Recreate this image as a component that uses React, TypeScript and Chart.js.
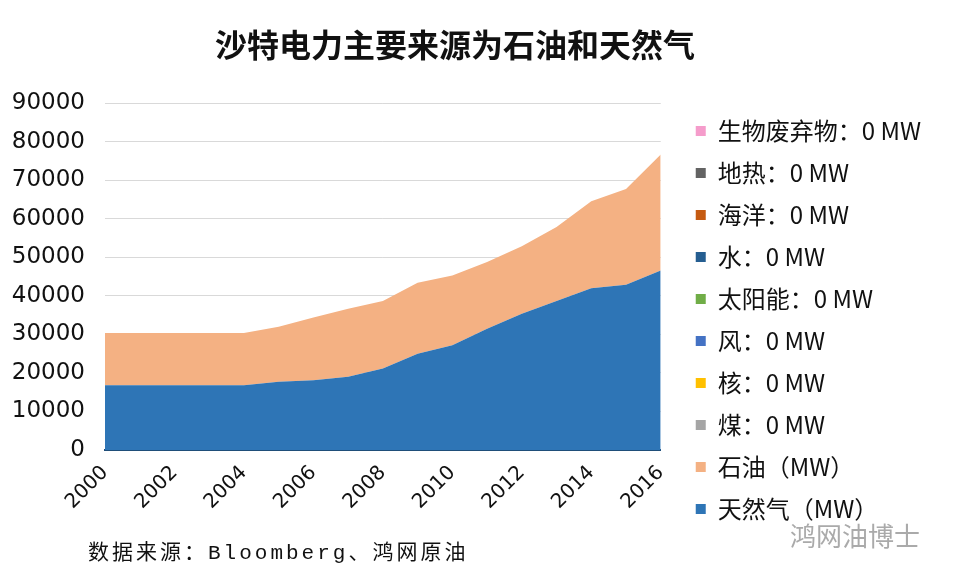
import React, { useEffect, useRef } from "react";
import { Chart, registerables } from "chart.js";

Chart.register(...registerables);

const years = ["2000","2001","2002","2003","2004","2005","2006","2007","2008","2009","2010","2011","2012","2013","2014","2015","2016"];
const gas = [16800,16800,16800,16800,16800,17700,18100,19000,21150,25000,27200,31500,35400,38700,42000,42900,46600];
const oil = [13600,13600,13600,13600,13600,14300,16300,17700,17550,18400,18100,17300,17500,19200,22600,24900,30100];
const zeros = years.map(() => 0);
const yTicks = [0,10000,20000,30000,40000,50000,60000,70000,80000,90000];

const zeroSeries = [
  { label: "煤：0 MW", color: "#a5a5a5" },
  { label: "核：0 MW", color: "#ffc000" },
  { label: "风：0 MW", color: "#4472c4" },
  { label: "太阳能：0 MW", color: "#70ad47" },
  { label: "水：0 MW", color: "#255e91" },
  { label: "海洋：0 MW", color: "#c55a11" },
  { label: "地热：0 MW", color: "#636363" },
  { label: "生物废弃物：0 MW", color: "#f59ccb" },
];

const title = "沙特电力主要来源为石油和天然气";
const source = "数据来源：Bloomberg、鸿网原油";
const watermark = "鸿网油博士";

export default function App() {
  const ref = useRef<HTMLCanvasElement>(null);
  useEffect(() => {
    if (!ref.current) return;
    const datasets: any[] = [
      { label: "天然气（MW）", data: gas, backgroundColor: "#2e75b6", borderColor: "#2e75b6", borderWidth: 0, fill: "origin", pointRadius: 0, tension: 0 },
      { label: "石油（MW）", data: oil, backgroundColor: "#f4b183", borderColor: "#f4b183", borderWidth: 0, fill: "-1", pointRadius: 0, tension: 0 },
      ...zeroSeries.map((s) => ({ label: s.label, data: zeros, backgroundColor: s.color, borderColor: s.color, borderWidth: 0, fill: false, pointRadius: 0, showLine: false })),
    ];
    const chart = new Chart(ref.current, {
      type: "line",
      data: { labels: years, datasets },
      options: {
        animation: false,
        responsive: false,
        maintainAspectRatio: false,
        layout: { padding: { left: -29, right: 21, top: 0, bottom: 29 } },
        plugins: {
          title: {
            display: true,
            text: title,
            color: "#111",
            font: { family: "'Noto Sans CJK SC'", size: 32, weight: "bold" },
            padding: { top: 18, bottom: 39 },
          },
          legend: {
            position: "right",
            reverse: true,
            align: "end",
            maxWidth: 400,
            labels: {
              boxWidth: 10,
              boxHeight: 10,
              padding: 18,
              color: "#111",
              font: { family: "'Noto Sans CJK SC'", size: 24 },
            },
          },
          tooltip: { enabled: false },
        },
        scales: {
          x: {
            stacked: true,
            offset: false,
            grid: { display: false },
            border: { display: true, color: "#1f4e79", width: 2 },
            afterFit: (axis: any) => { axis.height = 89; },
            ticks: {
              autoSkip: false,
              maxRotation: 45,
              minRotation: 45,
              color: "#111",
              font: { family: "'DejaVu Sans'", size: 20 },
              callback: (v: any, i: number) => (i % 2 === 0 ? years[i] : ""),
            },
          },
          y: {
            stacked: true,
            min: 0,
            max: 90000,
            afterBuildTicks: (axis: any) => { axis.ticks = yTicks.map((v) => ({ value: v })); },
            afterFit: (axis: any) => { axis.width = 126; },
            grid: { color: "#d9d9d9", drawTicks: false },
            border: { display: false },
            ticks: {
              padding: 20,
              color: "#111",
              font: { family: "'DejaVu Sans'", size: 23 },
              callback: (v: any) => String(v),
            },
          },
          yGap: {
            axis: "y",
            position: "right",
            display: true,
            grid: { display: false, drawOnChartArea: false },
            border: { display: false },
            ticks: { display: false },
            afterFit: (axis: any) => { axis.width = 17; },
          },
        },
      },
    });
    return () => chart.destroy();
  }, []);
  return (
    <div style={{ position: "relative", width: 944, height: 560 }}>
      <canvas ref={ref} width={944} height={560} style={{ display: "block" }} />
      <div style={{ position: "absolute", left: 80, top: 527, fontFamily: "'Liberation Mono', 'Noto Sans CJK SC'", fontSize: 21, letterSpacing: 3, color: "#111", whiteSpace: "nowrap" }}>{source}</div>
      <div style={{ position: "absolute", left: 782, top: 508, fontFamily: "'Noto Sans CJK SC'", fontSize: 26, color: "#aaaaaa", whiteSpace: "nowrap" }}>{watermark}</div>
    </div>
  );
}
